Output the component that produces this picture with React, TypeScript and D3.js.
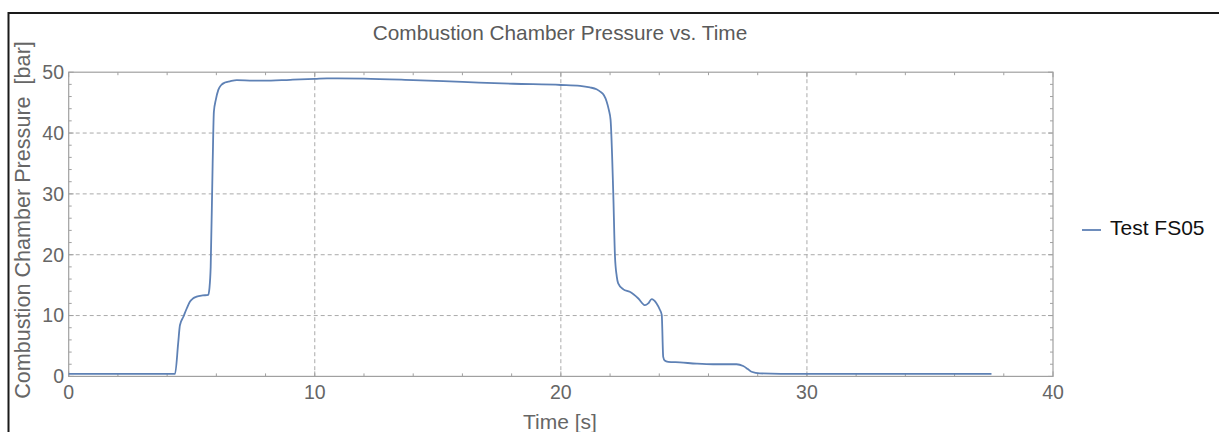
import React from "react";
import * as d3 from "d3";

const timeS = [0, 4.32, 4.45, 4.52, 4.66, 4.8, 4.93, 5.05, 5.2, 5.45, 5.67, 5.72, 5.77, 5.85, 5.9, 5.98, 6.08, 6.2, 6.35, 6.55, 6.83, 7.5, 7.9, 9, 10, 10.5, 12, 14, 16, 18.07, 20, 20.78, 21.18, 21.45, 21.6, 21.75, 21.86, 21.95, 22.02, 22.13, 22.2, 22.27, 22.33, 22.54, 22.8, 23.15, 23.42, 23.55, 23.69, 23.89, 24.02, 24.1, 24.16, 24.22, 24.36, 24.84, 25.52, 26.19, 27.14, 27.41, 27.6, 27.75, 28.09, 29.7, 37.5];
const pressureBar = [0.4, 0.4, 5.5, 8.4, 9.8, 11.2, 12.3, 12.8, 13.1, 13.3, 13.4, 14.5, 18, 35, 43.5, 45.5, 47.1, 47.9, 48.3, 48.5, 48.7, 48.6, 48.6, 48.75, 48.9, 49.0, 48.95, 48.7, 48.4, 48.1, 47.9, 47.75, 47.5, 47.2, 46.8, 46.2, 45.2, 43.8, 42.2, 30.1, 19.7, 16.5, 15.3, 14.3, 13.9, 12.8, 11.7, 12.0, 12.7, 12.0, 11.0, 10.1, 3.2, 2.6, 2.4, 2.3, 2.1, 2.0, 2.0, 1.7, 1.2, 0.76, 0.5, 0.4, 0.4];

const xTicks = [0, 10, 20, 30, 40];
const yTicks = [0, 10, 20, 30, 40, 50];
const xMinor = d3.range(0, 40.01, 2);
const yMinor = d3.range(0, 50.01, 2);
const seriesName = "Test FS05";
const titleText = "Combustion Chamber Pressure vs. Time";
const xLabel = "Time [s]";
const yLabel = "Combustion Chamber Pressure \u00a0[bar]";

const W = 1219, H = 432;
const L = 68.7, R = 1053, T = 72.2, B = 376.4;
const FONT = "'Liberation Sans', Arial, sans-serif";
const LINE = "#5E81B5";
const FRAME = "#a0a0a0";

export default function App() {
  const x = d3.scaleLinear().domain([0, 40]).range([L, R]);
  const y = d3.scaleLinear().domain([0, 50]).range([B, T]);
  const data = timeS.map((t, i) => [t, pressureBar[i]] as [number, number]);
  const line = d3.line<[number, number]>().x(d => x(d[0])).y(d => y(d[1])).curve(d3.curveMonotoneX);

  return (
    <svg width={W} height={H} style={{ position: "absolute", left: 0, top: 0, background: "#fff" }}>
      <rect x={0} y={0} width={W} height={H} fill="#fff" />
      {/* outer border */}
      <path d={`M8.5,${H} L8.5,13 L${W},13`} fill="none" stroke="#1a1a1a" strokeWidth={2} />
      {/* grid */}
      {xTicks.filter(v => v > 0 && v < 40).map(v => (
        <line key={"gx" + v} x1={x(v)} x2={x(v)} y1={T} y2={B} stroke="#aaa" strokeWidth={1} strokeDasharray="4,3" />
      ))}
      {yTicks.filter(v => v > 0 && v < 50).map(v => (
        <line key={"gy" + v} x1={L} x2={R} y1={y(v)} y2={y(v)} stroke="#aaa" strokeWidth={1} strokeDasharray="4,3" />
      ))}
      {/* ticks */}
      {xMinor.map(v => {
        const major = v % 10 === 0;
        const len = major ? 5 : 3;
        return (
          <g key={"tx" + v}>
            <line x1={x(v)} x2={x(v)} y1={B} y2={B - len} stroke={FRAME} />
            <line x1={x(v)} x2={x(v)} y1={T} y2={T + len} stroke={FRAME} />
          </g>
        );
      })}
      {yMinor.map(v => {
        const major = v % 10 === 0;
        const len = major ? 5 : 3;
        return (
          <g key={"ty" + v}>
            <line x1={L} x2={L + len} y1={y(v)} y2={y(v)} stroke={FRAME} />
            <line x1={R} x2={R - len} y1={y(v)} y2={y(v)} stroke={FRAME} />
          </g>
        );
      })}
      {/* frame */}
      <rect x={L} y={T} width={R - L} height={B - T} fill="none" stroke={FRAME} strokeWidth={1.2} />
      {/* data */}
      <path d={line(data) || ""} fill="none" stroke={LINE} strokeWidth={1.8} strokeLinejoin="round" />
      {/* tick labels */}
      {xTicks.map(v => (
        <text key={"lx" + v} x={x(v)} y={398.5} textAnchor="middle" fontFamily={FONT} fontSize={19.5} fill="#666">{v}</text>
      ))}
      {yTicks.map(v => (
        <text key={"ly" + v} x={64} y={y(v) + 6.8} textAnchor="end" fontFamily={FONT} fontSize={19.5} fill="#666">{v}</text>
      ))}
      {/* title & labels */}
      <text x={560} y={40} textAnchor="middle" fontFamily={FONT} fontSize={20.8} fill="#5a5a5a">{titleText}</text>
      <text x={560} y={429} textAnchor="middle" fontFamily={FONT} fontSize={21} fill="#666">{xLabel}</text>
      <text transform={`translate(29.5,220) rotate(-90)`} textAnchor="middle" fontFamily={FONT} fontSize={21.6} fill="#666">{yLabel}</text>
      {/* legend */}
      <line x1={1082} x2={1101} y1={230} y2={230} stroke={LINE} strokeWidth={1.8} />
      <text x={1110} y={234.5} fontFamily={FONT} fontSize={21} fill="#111">{seriesName}</text>
    </svg>
  );
}
